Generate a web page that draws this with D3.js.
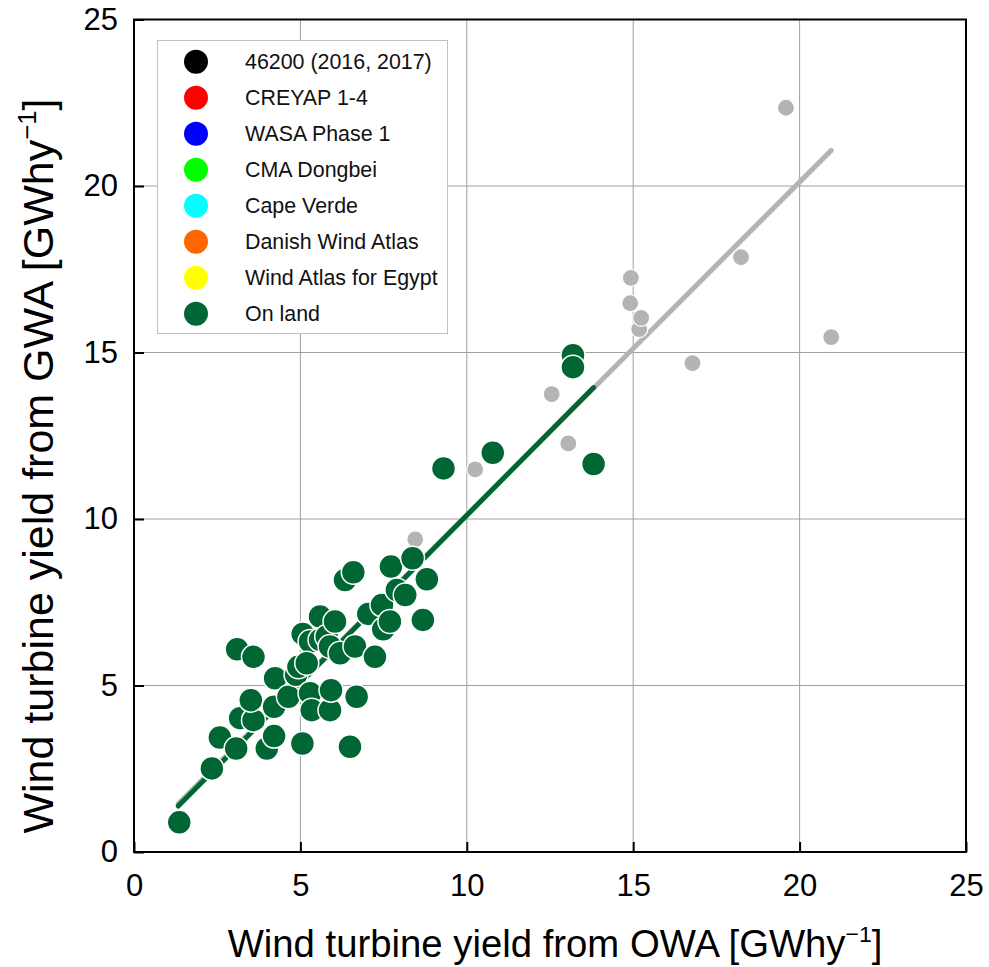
<!DOCTYPE html>
<html>
<head>
<meta charset="utf-8">
<script src="https://cdn.jsdelivr.net/npm/d3@7"></script>
<style>
  html, body { margin: 0; padding: 0; background: #fff; }
  svg { display: block; font-family: Arial, "Liberation Sans", sans-serif; }
</style>
</head>
<body>
<svg id="chart" width="989" height="967"></svg>
<script>
// On-land sites: yield from OWA (x) vs yield from GWA (y), GWh/y
const landX = [1.36, 2.34, 2.58, 3.07, 3.19, 3.59, 3.51, 3.99, 4.21, 4.21, 4.24, 3.10, 3.59,
  4.64, 4.87, 4.94, 5.06, 5.29, 5.34, 5.89, 5.92, 6.69, 6.49, 5.07, 5.29, 5.19, 5.59, 5.59,
  5.79, 5.89, 6.04, 6.19, 6.34, 6.59, 6.64, 7.24, 7.04, 7.45, 7.49, 7.69, 7.72, 7.90, 8.15,
  8.37, 8.80, 8.68, 9.30, 10.78, 13.19, 13.19, 13.81];
const landY = [0.89, 2.51, 3.44, 3.11, 4.02, 3.96, 4.56, 3.11, 3.48, 4.36, 5.22, 6.09, 5.86,
  4.66, 5.32, 5.56, 3.26, 4.77, 4.26, 4.26, 4.86, 4.66, 3.16, 6.55, 6.32, 5.67, 7.07, 6.37,
  6.47, 6.17, 6.92, 5.97, 8.17, 8.40, 6.17, 5.86, 7.15, 7.42, 6.69, 6.92, 8.57, 7.87, 7.72,
  8.82, 8.19, 6.97, 11.52, 11.99, 14.92, 14.56, 11.65];

// Offshore / mast sites from the other atlases
const otherX = [8.45, 10.25, 12.55, 13.05, 14.93, 14.91, 15.18, 15.24, 16.78, 18.24, 19.59, 20.95];
const otherY = [9.39, 11.49, 13.75, 12.27, 17.24, 16.48, 15.70, 16.04, 14.68, 17.86, 22.35, 15.46];

// Linear fits: [slope, intercept] and the x extent each line is drawn over
const otherFit = [1.0, 0.12];
const otherFitRange = [1.33, 20.95];
const landFit = [1.007, 0.04];
const landFitRange = [1.33, 13.81];

// Axis ticks
const tickValues = [0, 5, 10, 15, 20, 25];
const gridValues = [5, 10, 15, 20];

// Legend
const legendLabels = ["46200 (2016, 2017)", "CREYAP 1-4", "WASA Phase 1", "CMA Dongbei",
  "Cape Verde", "Danish Wind Atlas", "Wind Atlas for Egypt", "On land"];
const legendColors = ["#000000", "#ff0000", "#0000ff", "#00ff00", "#00ffff", "#ff6600",
  "#ffff00", "#006633"];

const GREEN = "#006633";
const GREY = "#b4b4b4";

const svg = d3.select("#chart");
const plotL = 134, plotR = 966, plotT = 19.5, plotB = 852;

const x = d3.scaleLinear().domain([0, 25]).range([plotL, plotR]);
const y = d3.scaleLinear().domain([0, 25]).range([plotB, plotT]);

// grid
const grid = svg.append("g").attr("stroke", "#a0a0a0").attr("stroke-width", 1);
grid.selectAll("line.gx").data(gridValues).join("line").attr("class", "gx")
  .attr("x1", d => x(d)).attr("x2", d => x(d)).attr("y1", plotT).attr("y2", plotB);
grid.selectAll("line.gy").data(gridValues).join("line").attr("class", "gy")
  .attr("y1", d => y(d)).attr("y2", d => y(d)).attr("x1", plotL).attr("x2", plotR);

// fit lines and points
const fitLine = (fit, range) => range.map(v => [x(v), y(fit[0] * v + fit[1])]);
svg.append("path").attr("d", d3.line()(fitLine(otherFit, otherFitRange)))
  .attr("stroke", GREY).attr("stroke-width", 5).attr("stroke-linecap", "round").attr("fill", "none");

svg.append("g").selectAll("circle").data(otherX.map((v, i) => [v, otherY[i]])).join("circle")
  .attr("cx", d => x(d[0])).attr("cy", d => y(d[1])).attr("r", 8.5)
  .attr("fill", GREY).attr("stroke", "#fff").attr("stroke-width", 1.2);

svg.append("path").attr("d", d3.line()(fitLine(landFit, landFitRange)))
  .attr("stroke", GREEN).attr("stroke-width", 5).attr("stroke-linecap", "round").attr("fill", "none");

svg.append("g").selectAll("circle").data(landX.map((v, i) => [v, landY[i]])).join("circle")
  .attr("cx", d => x(d[0])).attr("cy", d => y(d[1])).attr("r", 12)
  .attr("fill", GREEN).attr("stroke", "#fff").attr("stroke-width", 1.5);

// legend
const lg = svg.append("g");
lg.append("rect").attr("x", 157.5).attr("y", 40.5).attr("width", 290).attr("height", 293)
  .attr("fill", "#fff").attr("stroke", "#c0c0c0").attr("stroke-width", 1);
const items = lg.selectAll("g.item").data(legendLabels).join("g").attr("class", "item")
  .attr("transform", (d, i) => `translate(0, ${61.7 + i * 36})`);
items.append("circle").attr("cx", 196).attr("cy", 0).attr("r", 12)
  .attr("fill", (d, i) => legendColors[i]);
items.append("text").attr("x", 245).attr("y", 0).attr("dy", "0.35em")
  .attr("font-size", 21.4).attr("fill", "#111").text(d => d);

// frame
svg.append("rect").attr("x", plotL).attr("y", plotT).attr("width", plotR - plotL).attr("height", plotB - plotT)
  .attr("fill", "none").attr("stroke", "#000").attr("stroke-width", 2);

// inward ticks and labels
const xAxis = d3.axisBottom(x).tickValues(tickValues).tickSize(-10).tickPadding(22).tickFormat(d3.format("d"));
const yAxis = d3.axisLeft(y).tickValues(tickValues).tickSize(-10).tickPadding(16).tickFormat(d3.format("d"));
const gx = svg.append("g").attr("transform", `translate(0, ${plotB})`).call(xAxis);
const gy = svg.append("g").attr("transform", `translate(${plotL}, 0)`).call(yAxis);
[gx, gy].forEach(g => {
  g.select(".domain").remove();
  g.selectAll(".tick line").attr("stroke", "#000").attr("stroke-width", 2);
  g.selectAll(".tick text").attr("font-size", 31).attr("fill", "#000")
    .attr("font-family", "Arial, 'Liberation Sans', sans-serif");
});

// axis titles
function title(sel, label, size) {
  sel.attr("font-size", size).attr("fill", "#000").attr("text-anchor", "middle");
  sel.append("tspan").text(label + " [GWhy");
  sel.append("tspan").attr("font-size", size * 0.6).attr("dy", -size * 0.4).text("\u22121");
  sel.append("tspan").attr("dy", size * 0.4).text("]");
}
svg.append("text").attr("x", 555).attr("y", 957).call(title, "Wind turbine yield from OWA", 38.3);
svg.append("text").attr("transform", "translate(53, 466) rotate(-90)").call(title, "Wind turbine yield from GWA", 43);
</script>
</body>
</html>
